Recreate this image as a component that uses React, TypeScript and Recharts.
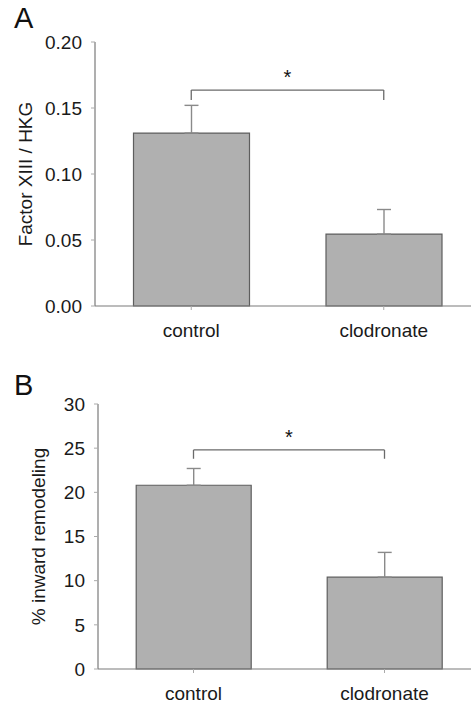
import {
  BarChart,
  Bar,
  XAxis,
  YAxis,
  ErrorBar,
  ReferenceLine,
} from 'recharts'

const categories = ['control', 'clodronate']

// panel A: Factor XIII / HKG
const factorMeans = [0.131, 0.0545]
const factorErrors = [0.021, 0.0186]
const factorTicks = [0, 0.05, 0.1, 0.15, 0.2]

// panel B: % inward remodeling
const remodelMeans = [20.8, 10.4]
const remodelErrors = [1.9, 2.8]
const remodelTicks = [0, 5, 10, 15, 20, 25, 30]

const FONT = '"Liberation Sans", Arial, Helvetica, sans-serif'
const AXIS_COLOR = '#7a7a7a'
const BAR_FILL = '#b0b0b0'
const BAR_STROKE = '#5e5e5e'
const TEXT_COLOR = '#1a1a1a'

const buildRows = (means: number[], errors: number[]) =>
  categories.map((name, i) => ({ name, value: means[i], err: [0, errors[i]] }))

interface PanelProps {
  letter: string
  letterTop: number
  top: number
  height: number
  axisWidth: number
  marginTop: number
  xAxisHeight: number
  rows: { name: string; value: number; err: number[] }[]
  ticks: number[]
  domainMax: number
  tickFormat: (v: number) => string
  yLabel: string
  labelOffset: number
  bracketY: number
  bracketDrop: number
}

function Panel(p: PanelProps) {
  const tickStyle = { fontSize: 19, fill: TEXT_COLOR, fontFamily: FONT }
  const bracketStroke = { stroke: '#6a6a6a', strokeWidth: 1.3 }
  return (
    <div style={{ position: 'absolute', left: 0, top: p.top }}>
      <div
        style={{
          position: 'absolute',
          left: 14,
          top: p.letterTop,
          fontFamily: FONT,
          fontSize: 29,
          color: '#111',
          lineHeight: 1.2,
          zIndex: 2,
        }}
      >
        {p.letter}
      </div>
      <BarChart
        width={480}
        height={p.height}
        data={p.rows}
        margin={{ top: p.marginTop, right: 0, bottom: 0, left: 0 }}
        barCategoryGap="20%"
      >
        <XAxis
          dataKey="name"
          height={p.xAxisHeight}
          tick={tickStyle}
          tickSize={4}
          tickMargin={14}
          axisLine={{ stroke: AXIS_COLOR, strokeWidth: 1.2 }}
          tickLine={{ stroke: '#aaa' }}
        />
        <YAxis
          width={p.axisWidth}
          domain={[0, p.domainMax]}
          ticks={p.ticks}
          tickFormatter={p.tickFormat}
          tick={tickStyle}
          tickSize={4}
          tickMargin={9}
          axisLine={{ stroke: AXIS_COLOR, strokeWidth: 1.2 }}
          tickLine={{ stroke: '#aaa' }}
          label={{
            value: p.yLabel,
            angle: -90,
            position: 'insideLeft',
            offset: p.labelOffset,
            style: { textAnchor: 'middle', fontSize: 19, fill: TEXT_COLOR, fontFamily: FONT },
          }}
        />
        <Bar
          dataKey="value"
          fill={BAR_FILL}
          stroke={BAR_STROKE}
          strokeWidth={1.2}
          isAnimationActive={false}
        >
          <ErrorBar dataKey="err" width={7} stroke="#8a8a8a" strokeWidth={1.4} />
        </Bar>
        <ReferenceLine
          segment={[
            { x: categories[0], y: p.bracketY },
            { x: categories[1], y: p.bracketY },
          ]}
          {...bracketStroke}
          label={{
            value: '*',
            position: 'top',
            offset: 6,
            style: { fontSize: 20, fill: '#111', fontFamily: FONT },
          }}
        />
        <ReferenceLine
          segment={[
            { x: categories[0], y: p.bracketY },
            { x: categories[0], y: p.bracketY - p.bracketDrop },
          ]}
          {...bracketStroke}
        />
        <ReferenceLine
          segment={[
            { x: categories[1], y: p.bracketY },
            { x: categories[1], y: p.bracketY - p.bracketDrop },
          ]}
          {...bracketStroke}
        />
      </BarChart>
    </div>
  )
}

export default function App() {
  return (
    <div
      style={{
        position: 'absolute',
        left: 0,
        top: 0,
        width: 471,
        height: 705,
        overflow: 'hidden',
        background: '#fff',
      }}
    >
      <Panel
        letter="A"
        letterTop={1}
        top={0}
        height={346}
        axisWidth={95}
        marginTop={42}
        xAxisHeight={40}
        rows={buildRows(factorMeans, factorErrors)}
        ticks={factorTicks}
        domainMax={0.2}
        tickFormat={(v) => v.toFixed(2)}
        yLabel="Factor XIII / HKG"
        labelOffset={25}
        bracketY={0.1636}
        bracketDrop={0.0076}
      />
      <Panel
        letter="B"
        letterTop={8}
        top={360}
        height={349}
        axisWidth={98}
        marginTop={44}
        xAxisHeight={40}
        rows={buildRows(remodelMeans, remodelErrors)}
        ticks={remodelTicks}
        domainMax={30}
        tickFormat={(v) => String(v)}
        yLabel="% inward remodeling"
        labelOffset={38}
        bracketY={24.8}
        bracketDrop={1.0}
      />
    </div>
  )
}
